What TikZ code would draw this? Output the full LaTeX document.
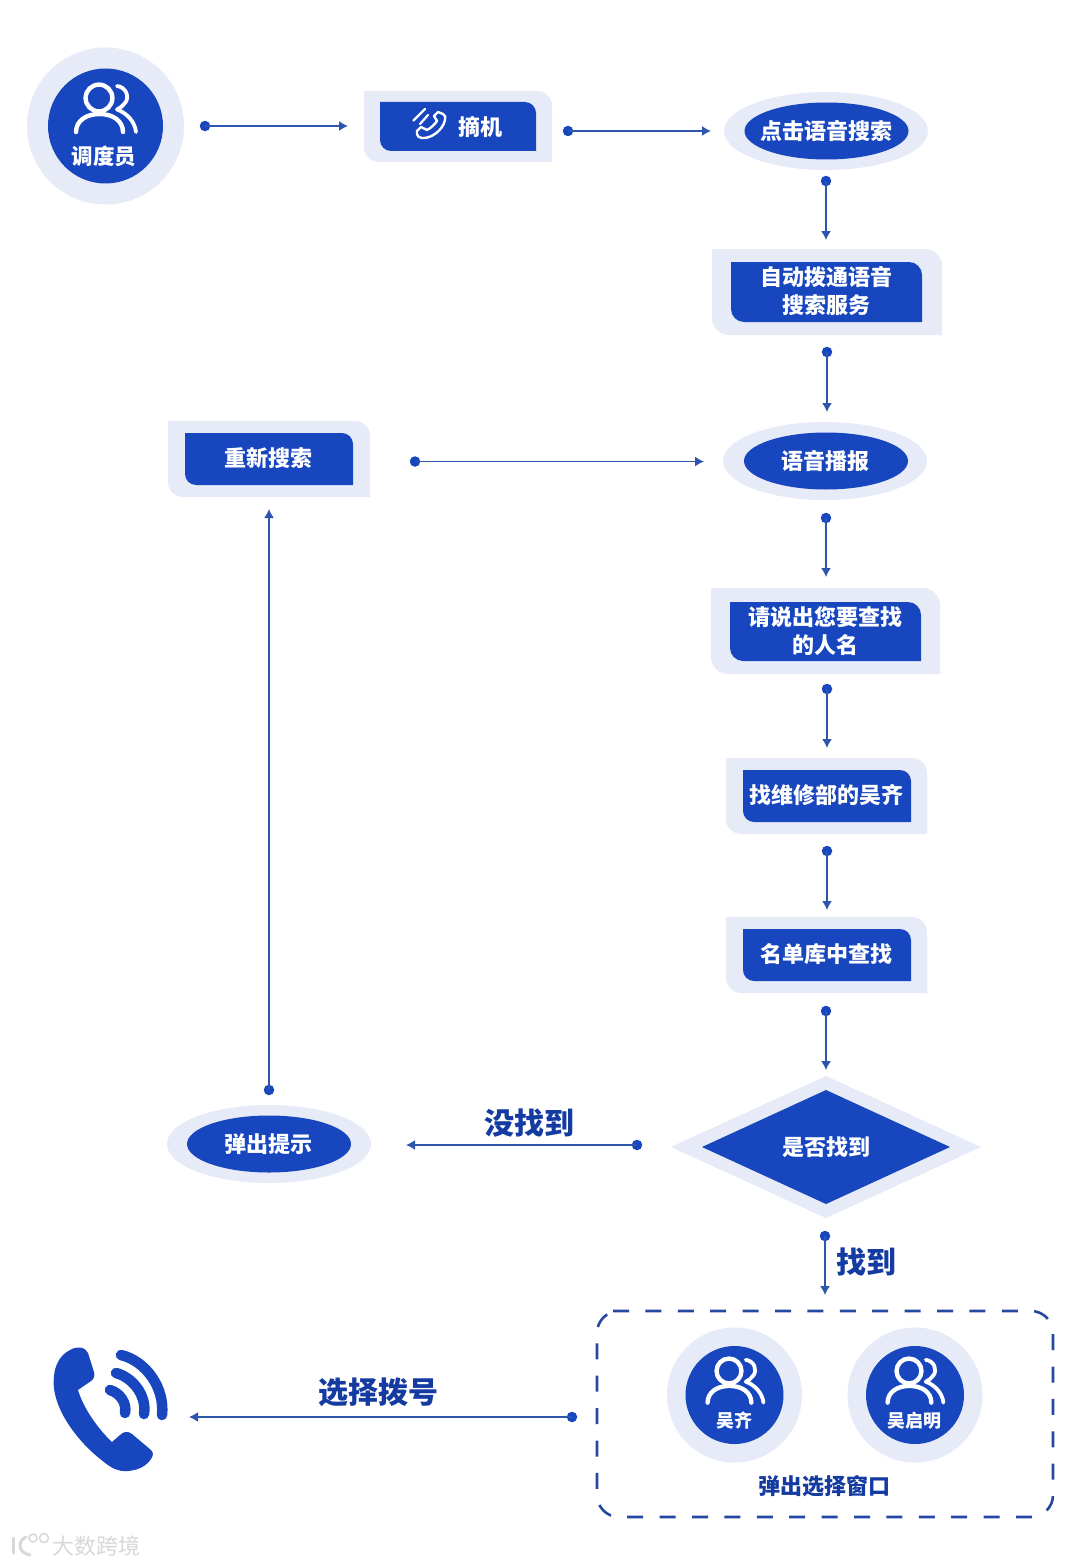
\documentclass[tikz,border=0pt]{standalone}
\usepackage{fontspec}
\setmainfont{Noto Sans CJK SC}
\usetikzlibrary{arrows.meta,shapes.geometric}
\definecolor{mainblue}{HTML}{1746BE}
\definecolor{paleblue}{HTML}{E6EBF7}
\definecolor{lineblue}{HTML}{2F56AE}
\definecolor{darkdash}{HTML}{25479F}
\definecolor{wm}{HTML}{D8D8D8}
\newcommand{\fsz}[1]{\fontsize{#1}{28}\selectfont\bfseries}
% box with rounded top-right and bottom-left corners
\newcommand{\tbpath}[5]{(#1,#2) -- ({#3-#5},#2) .. controls ({#3-0.45*#5},#2) and (#3,{#2+0.45*#5}) .. (#3,{#2+#5}) -- (#3,#4) -- ({#1+#5},#4) .. controls ({#1+0.45*#5},#4) and (#1,{#4-0.45*#5}) .. (#1,{#4-#5}) -- cycle}
\tikzset{
  boxtext/.style={text=white,font=\fsz{22},align=center,inner sep=0pt},
  outerellipse/.style={ellipse,fill=paleblue,inner sep=0pt,minimum width=204pt,minimum height=78pt},
  innerellipse/.style={ellipse,fill=mainblue,inner sep=0pt,minimum width=164pt,minimum height=57pt},
  outercircle/.style={circle,fill=paleblue,inner sep=0pt},
  innercircle/.style={circle,fill=mainblue,inner sep=0pt},
  dotmark/.style={circle,fill=mainblue,inner sep=0pt,minimum size=10.5pt},
  flow/.style={lineblue,line width=1.5pt,-{Latex[length=9pt,width=10pt]}},
  bluelabel/.style={text=mainblue!85!black,font=\fsz{30},inner sep=0pt},
  whitelabel/.style={text=white,inner sep=0pt},
  iconline/.style={white,line width=4.4pt,line cap=round,line join=round},
  person/.pic={
    \draw[iconline] (0,0) circle (13.4pt);
    \draw[iconline] (-23,34) .. controls (-23,23) and (-13,16) .. (0.5,16) .. controls (14,16) and (24,23) .. (24,34);
    \draw[iconline,line width=3.8pt] (18,-12) .. controls (27,-11) and (31,-1) .. (26,5) .. controls (24,8) and (21,10) .. (18,11.5) .. controls (28,15) and (36,24) .. (37,34);
  },
}
\begin{document}
\begin{tikzpicture}[x=1pt,y=-1pt]
\useasboundingbox (0,0) rectangle (1080,1565);
\fill[white] (0,0) rectangle (1080,1565);

% dispatcher
\node[outercircle,minimum size=157pt] (dispOut) at (105.5,126) {};
\node[innercircle,minimum size=115pt] (disp) at (105.5,126) {};
\pic at (99,98) {person};
\node[whitelabel,font=\fsz{21.5}] (dispT) at (104,156) {调度员};

% pick up
\fill[paleblue] \tbpath{364}{91}{552}{162}{15};
\fill[mainblue] \tbpath{380}{102}{536}{151}{11};
\node[boxtext] (pick) at (480,127) {摘机};
\draw[white,line width=2.4pt,line join=round,line cap=round]
  (434,116) -- (438,112) -- (443,114) .. controls (445,115) and (446,117) .. (445,120)
  .. controls (443,130) and (431,139) .. (422,138)
  .. controls (419,138) and (417,136) .. (417,134) -- (417,131) -- (421,127) -- (427,130)
  .. controls (431,128) and (435,124) .. (437,121) -- cycle;
\draw[white,line width=2.2pt,line cap=round] (413.5,120.5) -- (425,109);
\draw[white,line width=2.2pt,line cap=round] (420,124) -- (428,115);

% ellipses top
\node[outerellipse] (clickOut) at (826,131) {};
\node[innerellipse] (clickIn) at (826.5,131) {};
\node[boxtext] (click) at (826,131) {点击语音搜索};

% auto dial
\fill[paleblue] \tbpath{712}{249}{942}{335}{17};
\fill[mainblue] \tbpath{731}{262}{922}{322}{13};
\node[boxtext] (auto) at (826.5,291.5) {自动拨通语音\\搜索服务};

% broadcast
\node[outerellipse] (bcOut) at (825,461) {};
\node[innerellipse] (bcIn) at (826,461) {};
\node[boxtext] (bc) at (825,461) {语音播报};

% re-search
\fill[paleblue] \tbpath{168}{421}{370}{497}{15};
\fill[mainblue] \tbpath{185}{433}{353}{485}{11};
\node[boxtext] (again) at (268,458.5) {重新搜索};

% prompt
\fill[paleblue] \tbpath{711}{588}{940}{674}{17};
\fill[mainblue] \tbpath{730}{602}{921}{661}{13};
\node[boxtext] (say) at (825,631) {请说出您要查找\\的人名};

% find
\fill[paleblue] \tbpath{726}{758}{927}{834}{15};
\fill[mainblue] \tbpath{743}{770}{911}{822}{11};
\node[boxtext] (find) at (826,795.5) {找维修部的吴齐};

% look up
\fill[paleblue] \tbpath{726}{917}{927}{993}{15};
\fill[mainblue] \tbpath{743}{929}{911}{981}{11};
\node[boxtext] (lookup) at (826,954.5) {名单库中查找};

% decision
\fill[paleblue] (826,1076) -- (981,1147) -- (826,1218) -- (671,1147) -- cycle;
\fill[mainblue] (826,1090) -- (950,1147) -- (826,1204) -- (702,1147) -- cycle;
\node[boxtext] (dec) at (826,1147) {是否找到};

% pop-up prompt
\node[outerellipse] (popOut) at (269,1144) {};
\node[innerellipse] (popIn) at (269,1144) {};
\node[boxtext] (pop) at (268,1144) {弹出提示};

% selection window
\draw[darkdash,line width=2.6pt,dash pattern=on 16pt off 16.4pt,rounded corners=22pt]
  (613,1311) -- (1053,1311) -- (1053,1517) -- (597,1517) -- (597,1311) -- (613,1311);
\node[outercircle,minimum size=135pt] (wuOut) at (734.5,1395) {};
\node[innercircle,minimum size=98pt] (wu) at (734.5,1395) {};
\node[outercircle,minimum size=135pt] (mingOut) at (915,1395) {};
\node[innercircle,minimum size=98pt] (ming) at (915,1395) {};
\pic[scale=.93] at (729,1371) {person};
\pic[scale=.93] at (909,1371) {person};
\node[whitelabel,font=\fsz{18}] (wuT) at (734,1421) {吴齐};
\node[whitelabel,font=\fsz{18}] (mingT) at (914,1421) {吴启明};
\node[bluelabel,font=\fsz{22}] (winT) at (824,1486) {弹出选择窗口};

% big phone
\fill[mainblue,line join=round]
  (80,1347.5) .. controls (84,1348) and (87,1350) .. (88,1353)
  -- (94,1372) .. controls (95,1376) and (94,1379) .. (91,1381)
  -- (78,1390)
  .. controls (83,1407) and (97,1428) .. (112,1442)
  -- (120,1435) .. controls (124,1431) and (128,1431) .. (132,1434)
  -- (151,1450) .. controls (154,1453) and (153,1456) .. (151,1459)
  .. controls (147,1465) and (140,1470) .. (128,1471)
  .. controls (118,1472) and (110,1467) .. (104,1462)
  .. controls (76,1441) and (50,1405) .. (54,1376)
  .. controls (55,1365) and (60,1355) .. (70,1350)
  .. controls (74,1348) and (77,1347) .. (80,1347.5) -- cycle;
\draw[mainblue,line width=10.5pt,line cap=round] (121,1355) .. controls (146,1361) and (165,1388) .. (162,1415);
\draw[mainblue,line width=10.5pt,line cap=round] (116,1373) .. controls (132,1377) and (147,1395) .. (144,1414);
\draw[mainblue,line width=10.5pt,line cap=round] (110,1390) .. controls (120,1393) and (127,1403) .. (125,1413);

% connectors
\node[dotmark] (d1) at (205,126) {};   \coordinate (e1) at (348,126);
\node[dotmark] (d2) at (568,131) {};   \coordinate (e2) at (711,131);
\node[dotmark] (d3) at (826,181) {};   \coordinate (e3) at (826,240);
\node[dotmark] (d4) at (827,352) {};   \coordinate (e4) at (827,412);
\node[dotmark] (d5) at (415,461.5) {}; \coordinate (e5) at (704,461.5);
\node[dotmark] (d6) at (826,518) {};   \coordinate (e6) at (826,577);
\node[dotmark] (d7) at (827,689) {};   \coordinate (e7) at (827,748);
\node[dotmark] (d8) at (827,851) {};   \coordinate (e8) at (827,910);
\node[dotmark] (d9) at (826,1011) {};  \coordinate (e9) at (826,1070);
\node[dotmark] (d10) at (269,1090) {}; \coordinate (e10) at (269,509);
\node[dotmark] (d11) at (637,1145) {}; \coordinate (e11) at (406,1145);
\node[dotmark] (d12) at (825,1236) {}; \coordinate (e12) at (825,1295);
\node[dotmark] (d13) at (572,1417) {}; \coordinate (e13) at (189,1417);
\foreach \i in {1,...,13} \draw[flow] (d\i.center) -- (e\i);

% connector labels
\node[bluelabel] (no) at (529,1123) {没找到};
\node[bluelabel] (yes) at (866,1262) {找到};
\node[bluelabel] (dial) at (378.5,1392) {选择拨号};

% watermark
\node[text=wm,font=\fontsize{22}{28}\selectfont,inner sep=0pt] (wmT) at (96,1546) {大数跨境};
\draw[wm,line width=3pt,line cap=round] (13,1538) -- (13,1553);
\draw[wm,line width=3pt,line cap=round] (26,1537) .. controls (17,1541) and (18,1553) .. (30,1555);
\draw[wm,line width=1.5pt] (33,1538) circle (4pt);
\draw[wm,line width=1.5pt] (44,1538) circle (4.5pt);
\end{tikzpicture}
\end{document}
